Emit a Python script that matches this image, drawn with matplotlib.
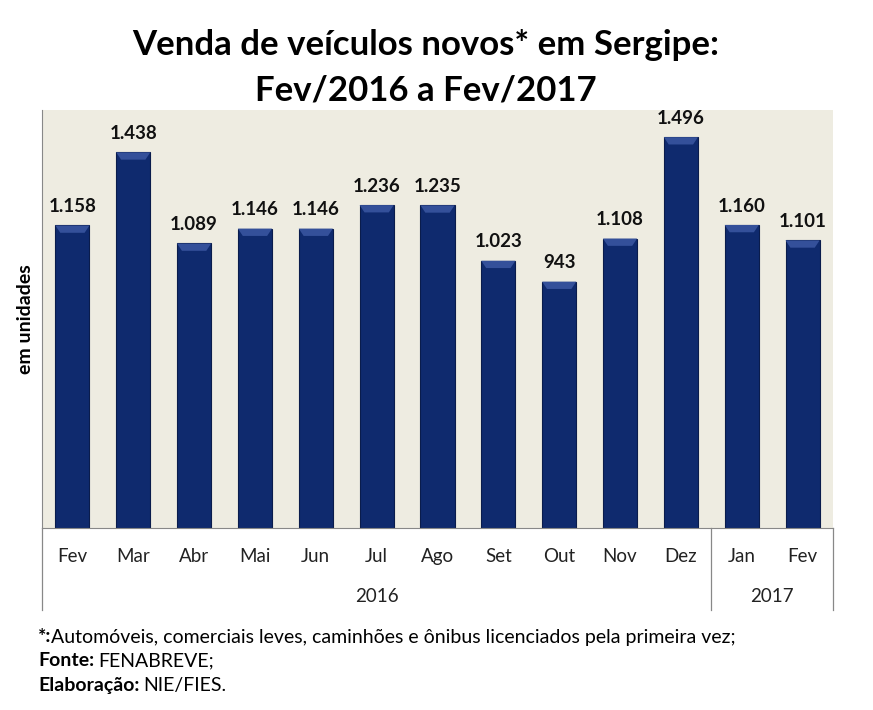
import numpy as np
import matplotlib.pyplot as plt
from matplotlib.patches import Polygon

plt.rcParams['font.family'] = ['Lato', 'DejaVu Sans']

meses = ["Fev", "Mar", "Abr", "Mai", "Jun", "Jul", "Ago", "Set", "Out", "Nov", "Dez", "Jan", "Fev"]
vendas = [1158, 1438, 1089, 1146, 1146, 1236, 1235, 1023, 943, 1108, 1496, 1160, 1101]
rotulos = ["1.158", "1.438", "1.089", "1.146", "1.146", "1.236", "1.235",
           "1.023", "943", "1.108", "1.496", "1.160", "1.101"]
anos = ["2016", "2017"]
meses_por_ano = [11, 2]

fig = plt.figure(figsize=(8.73, 7.1), dpi=100)
ax = fig.add_axes([42/873, 1-528/710, (833-42)/873, (528-110)/710])
ax.set_facecolor('#eeece1')

x = np.arange(len(vendas))
w = 0.56
bars = ax.bar(x, vendas, width=w, color='#0f2a6e', edgecolor='#0a1c4c', linewidth=0.8, zorder=2)

# bevel on top of each bar
bev = 28
for xi, v in zip(x, vendas):
    pts = [(xi - w/2, v), (xi + w/2, v), (xi + w/2 - 0.08, v - bev), (xi - w/2 + 0.08, v - bev)]
    ax.add_patch(Polygon(pts, closed=True, facecolor='#34509a', edgecolor='none', zorder=3))

for xi, v, r in zip(x, vendas, rotulos):
    ax.text(xi, v + 40, r, ha='center', va='bottom', fontsize=13.5, fontweight='bold', color='#111111')

ax.set_xlim(-0.5, len(vendas) - 0.5)
ax.set_ylim(0, 1600)
ax.set_yticks([])
ax.set_xticks([])
for s in ['top', 'right']:
    ax.spines[s].set_visible(False)
ax.spines['left'].set_color('#888888')
ax.spines['bottom'].set_color('#888888')

ax.set_ylabel('em unidades', fontsize=14, fontweight='bold', labelpad=6)

# month labels and year groups below the axis
trans = ax.get_xaxis_transform()
for xi, m in zip(x, meses):
    ax.text(xi, -0.068, m, transform=trans, ha='center', va='center', fontsize=13.5, color='#222222')

start = -0.5
for ano, n in zip(anos, meses_por_ano):
    end = start + n
    ax.text((start + end) / 2, -0.165, ano, transform=trans, ha='center', va='center',
            fontsize=13.5, color='#222222')
    ax.plot([end, end], [0, -0.197], transform=trans, color='#888888', lw=0.9, clip_on=False)
    start = end
ax.plot([-0.5, -0.5], [0, -0.197], transform=trans, color='#888888', lw=0.9, clip_on=False)

fig.text(426/873, 1-45/710, 'Venda de veículos novos* em Sergipe:', ha='center', va='center',
         fontsize=25, fontweight='bold')
fig.text(426/873, 1-90/710, 'Fev/2016 a Fev/2017', ha='center', va='center',
         fontsize=25, fontweight='bold')

# footnotes: bold prefix followed by regular text
notas = [("*:", "Automóveis, comerciais leves, caminhões e ônibus licenciados pela primeira vez;", 0),
         ("Fonte:", "FENABREVE;", 4),
         ("Elaboração:", "NIE/FIES.", 4)]
rend = fig.canvas.get_renderer()
fx = 38
for i, (b, r, gap) in enumerate(notas):
    yy = 1 - (637 + 24*i)/710
    tb = fig.text(fx/873, yy, b, ha='left', va='center', fontsize=14, fontweight='bold')
    wb = tb.get_window_extent(renderer=rend).width
    fig.text((fx + wb + gap)/873, yy, r, ha='left', va='center', fontsize=14)

fig.savefig('out.png', dpi=100)
